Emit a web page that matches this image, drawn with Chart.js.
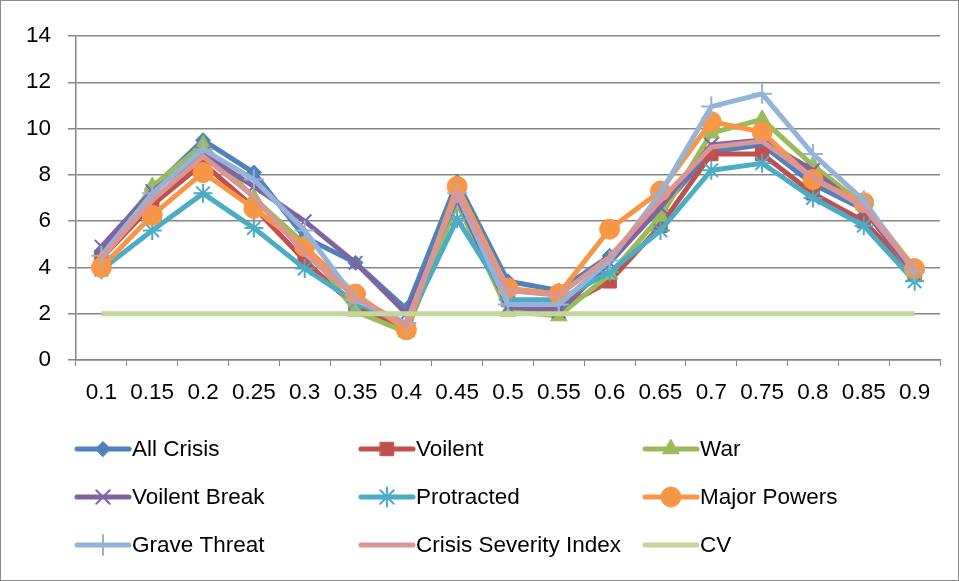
<!DOCTYPE html>
<html>
<head>
<meta charset="utf-8">
<script src="https://cdn.jsdelivr.net/npm/chart.js@4/dist/chart.umd.min.js"></script>
<style>
  html, body { margin: 0; padding: 0; background: #fff; }
  #wrap { width: 959px; height: 581px; box-sizing: border-box; border: 1px solid #8a8a8a; position: relative; }
  canvas { display: block; }
</style>
</head>
<body>
<div id="wrap"><canvas id="c" width="957" height="579"></canvas></div>
<script>
const categories = ['0.1','0.15','0.2','0.25','0.3','0.35','0.4','0.45','0.5','0.55','0.6','0.65','0.7','0.75','0.8','0.85','0.9'];
const allCrisis    = [4.7, 7.4, 9.5, 8.1, 5.3, 4.2, 2.2, 7.7, 3.4, 3.0, 4.5, 6.5, 9.0, 9.3, 7.6, 6.5, 4.0];
const voilent      = [4.4, 6.7, 8.5, 6.6, 4.3, 2.3, 1.4, 7.3, 2.6, 2.2, 3.4, 5.8, 8.9, 8.9, 7.2, 6.0, 3.7];
const war          = [4.3, 7.5, 9.3, 7.0, 5.0, 2.1, 1.2, 6.8, 2.1, 1.9, 3.7, 6.2, 9.8, 10.4, 8.4, 6.7, 3.6];
const voilentBreak = [4.9, 7.3, 8.9, 7.5, 6.0, 4.2, 2.0, 7.0, 2.3, 2.1, 4.2, 6.6, 9.3, 9.5, 8.2, 6.5, 3.7];
const protracted   = [3.9, 5.6, 7.2, 5.7, 3.95, 2.5, 1.5, 6.1, 2.6, 2.6, 3.8, 5.6, 8.2, 8.5, 7.0, 5.8, 3.4];
const majorPowers  = [4.0, 6.25, 8.1, 6.55, 4.9, 2.85, 1.3, 7.5, 3.1, 2.85, 5.65, 7.3, 10.3, 9.85, 7.8, 6.8, 3.95];
const graveThreat  = [4.5, 7.2, 9.1, 7.8, 5.6, 2.6, 1.6, 7.2, 2.4, 2.4, 4.3, 7.2, 10.95, 11.5, 8.9, 6.9, 3.8];
const csi          = [4.4, 6.9, 8.8, 7.05, 4.6, 2.7, 1.5, 7.25, 3.0, 2.8, 4.45, 6.9, 9.2, 9.45, 7.9, 6.6, 3.9];
const cv           = [2, 2, 2, 2, 2, 2, 2, 2, 2, 2, 2, 2, 2, 2, 2, 2, 2];
const yTicks = [0, 2, 4, 6, 8, 10, 12, 14];

const FONT = '"Liberation Sans", Arial, sans-serif';
const FSIZE = 22.5;

const seriesDefs = [
  { label: 'All Crisis', data: allCrisis, color: '#4F81BD', style: 'rectRot', radius: 7.5 },
  { label: 'Voilent', data: voilent, color: '#C0504D', style: 'rect', radius: 9.5 },
  { label: 'War', data: war, color: '#9BBB59', style: 'triangle', radius: 9.5 },
  { label: 'Voilent Break', data: voilentBreak, color: '#8064A2', style: 'crossRot', radius: 9.5 },
  { label: 'Protracted', data: protracted, color: '#4BACC6', style: 'star', radius: 9.5 },
  { label: 'Major Powers', data: majorPowers, color: '#F79646', style: 'circle', radius: 10 },
  { label: 'Grave Threat', data: graveThreat, color: '#95B3D7', style: 'cross', radius: 10 },
  { label: 'Crisis Severity Index', data: csi, color: '#D99694', style: false, radius: 0 },
  { label: 'CV', data: cv, color: '#C3D69B', style: false, radius: 0 }
];

const thinMarker = s => (s === 'cross' || s === 'crossRot' || s === 'star');

const datasets = seriesDefs.map((s, i) => ({
  label: s.label,
  data: s.data,
  borderColor: s.color,
  backgroundColor: s.color,
  borderWidth: 5,
  pointStyle: s.style,
  pointRadius: s.radius,
  pointBorderWidth: thinMarker(s.style) ? 2 : 1,
  pointBorderColor: s.color,
  pointBackgroundColor: s.color,
  tension: 0,
  order: 9 - i
}));

const legendPlugin = {
  id: 'customLegend',
  afterDraw(chart) {
    const ctx = chart.ctx;
    const colX = [74, 358, 642];
    const rowY = [448, 496, 544];
    ctx.save();
    ctx.font = FSIZE + 'px ' + FONT;
    ctx.textBaseline = 'middle';
    ctx.textAlign = 'left';
    seriesDefs.forEach((s, i) => {
      const x = colX[i % 3];
      const y = rowY[Math.floor(i / 3)];
      ctx.strokeStyle = s.color;
      ctx.lineWidth = 5;
      ctx.lineCap = 'round';
      ctx.beginPath();
      ctx.moveTo(x + 2, y);
      ctx.lineTo(x + 54, y);
      ctx.stroke();
      if (s.style) {
        ctx.fillStyle = s.color;
        ctx.strokeStyle = s.color;
        ctx.lineWidth = thinMarker(s.style) ? 2 : 1;
        Chart.helpers.drawPoint(ctx, { pointStyle: s.style, radius: s.radius, borderWidth: ctx.lineWidth, rotation: 0 }, x + 28, y);
      }
      ctx.fillStyle = '#000';
      ctx.fillText(s.label, x + 57, y + 1);
    });
    ctx.restore();
  }
};

new Chart(document.getElementById('c'), {
  type: 'line',
  data: { labels: categories, datasets },
  options: {
    responsive: false,
    animation: false,
    layout: { padding: { top: 35, right: 18, bottom: 160, left: 0 } },
    plugins: { legend: { display: false }, tooltip: { enabled: false } },
    scales: {
      x: {
        offset: true,
        grid: { offset: true, drawOnChartArea: false, drawTicks: true, tickLength: 6, color: '#868686' },
        border: { display: true, color: '#868686', width: 1.5 },
        ticks: { color: '#000', font: { family: FONT, size: FSIZE }, padding: 13, maxRotation: 0, autoSkip: false },
        afterFit(axis) { axis.height = 60; }
      },
      y: {
        min: 0, max: 14,
        afterBuildTicks(axis) { axis.ticks = yTicks.map(v => ({ value: v })); },
        grid: { color: '#868686', lineWidth: 1.5, tickLength: 8 },
        border: { display: true, color: '#868686', width: 1.5 },
        ticks: { color: '#000', font: { family: FONT, size: FSIZE }, padding: 17 },
        afterFit(axis) { axis.width = 75; }
      }
    }
  },
  plugins: [legendPlugin]
});
</script>
</body>
</html>
